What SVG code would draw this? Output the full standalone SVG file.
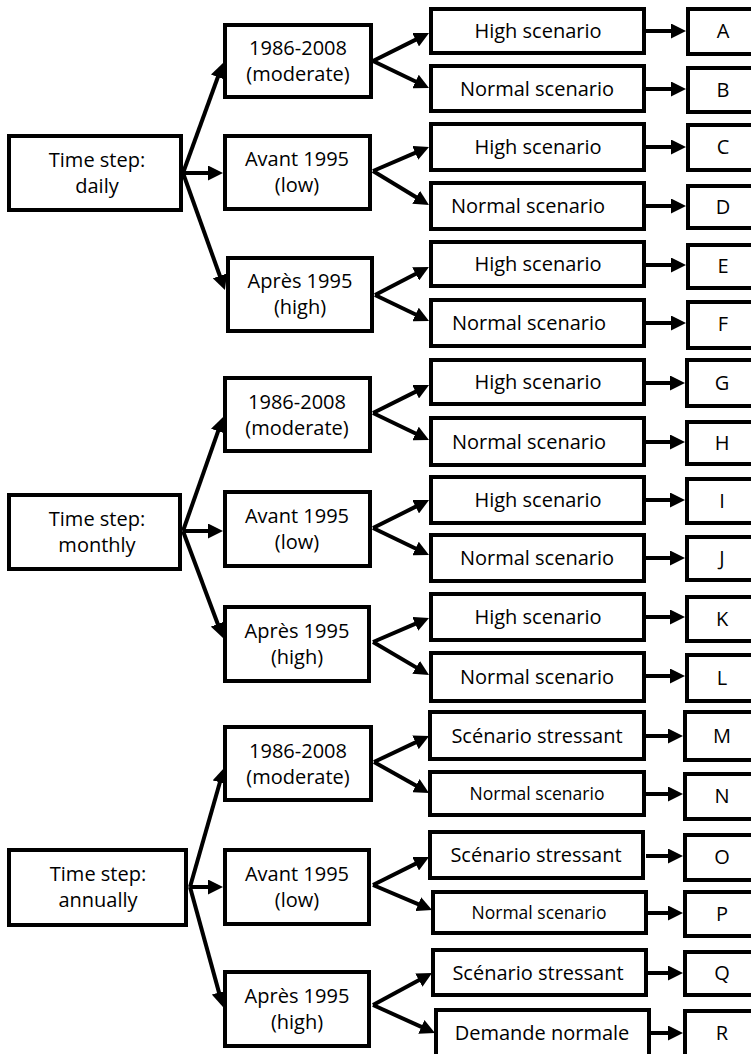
<svg xmlns="http://www.w3.org/2000/svg" width="751" height="1054" viewBox="0 0 751 1054">
<style>
.box{fill:#fff;stroke:#000;stroke-width:4}
.t{font-family:'Open Sans','Noto Sans',sans-serif;font-size:20px;text-anchor:middle;fill:#000}
.ts{font-size:17.5px}
.c line{stroke:#000;stroke-width:4;marker-end:url(#ah)}
</style>
<defs>
<marker id="ah" markerUnits="userSpaceOnUse" markerWidth="15" markerHeight="15" refX="3" refY="7.5" orient="auto">
<path d="M0,0 L15,7.5 L0,15 z" fill="#000"/>
</marker>
</defs>
<rect width="751" height="1054" fill="#fff"/>
<g class="c" id="connectors">
<line x1="183" y1="173" x2="218.9" y2="74.3"/>
<line x1="183" y1="173" x2="211" y2="173"/>
<line x1="183" y1="173" x2="220.9" y2="278.7"/>
<line x1="183" y1="531" x2="219.1" y2="428.3"/>
<line x1="183" y1="531" x2="211" y2="531"/>
<line x1="183" y1="531" x2="218.8" y2="626.8"/>
<line x1="190" y1="887" x2="220.7" y2="779.5"/>
<line x1="190" y1="887" x2="211" y2="887"/>
<line x1="190" y1="887" x2="219.8" y2="995.4"/>
<line x1="373" y1="61" x2="418.3" y2="38.4"/>
<line x1="373" y1="61" x2="418.2" y2="82.8"/>
<line x1="373" y1="171" x2="418" y2="151.7"/>
<line x1="373" y1="171" x2="418.7" y2="198.8"/>
<line x1="375" y1="295" x2="418.3" y2="272.5"/>
<line x1="375" y1="295" x2="418.2" y2="315.8"/>
<line x1="373" y1="413" x2="418.3" y2="390.4"/>
<line x1="373" y1="413" x2="418.2" y2="434.8"/>
<line x1="373" y1="528" x2="418.3" y2="505.4"/>
<line x1="373" y1="528" x2="418.2" y2="549.8"/>
<line x1="373" y1="642" x2="418" y2="622.7"/>
<line x1="373" y1="642" x2="418.7" y2="668.9"/>
<line x1="374" y1="762" x2="418.2" y2="741.1"/>
<line x1="374" y1="762" x2="418.5" y2="787.1"/>
<line x1="373" y1="885" x2="418.3" y2="862.4"/>
<line x1="373" y1="885" x2="421" y2="905.3"/>
<line x1="373" y1="1005" x2="421.5" y2="978.7"/>
<line x1="373" y1="1005" x2="424.1" y2="1028.1"/>
<line x1="646" y1="31" x2="674" y2="31"/>
<line x1="646" y1="89" x2="674" y2="89"/>
<line x1="646" y1="147" x2="674" y2="147"/>
<line x1="646" y1="206" x2="674" y2="206"/>
<line x1="646" y1="265" x2="674" y2="265"/>
<line x1="646" y1="323" x2="674" y2="323"/>
<line x1="646" y1="383" x2="673" y2="383"/>
<line x1="646" y1="442" x2="673" y2="442"/>
<line x1="646" y1="500" x2="673" y2="500"/>
<line x1="646" y1="558" x2="673" y2="558"/>
<line x1="646" y1="617" x2="673" y2="617"/>
<line x1="646" y1="676" x2="673" y2="676"/>
<line x1="646" y1="736" x2="671" y2="736"/>
<line x1="646" y1="794" x2="671" y2="794"/>
<line x1="646" y1="856" x2="671" y2="856"/>
<line x1="648" y1="913" x2="671" y2="913"/>
<line x1="648" y1="973" x2="671" y2="973"/>
<line x1="651" y1="1033" x2="671" y2="1033"/>
</g>
<g id="daily"><rect class="box" x="9" y="136" width="172" height="74"/><text class="t" x="97" y="167">Time step:</text><text class="t" x="97" y="193">daily</text></g>
<g id="d-mod"><rect class="box" x="225" y="25" width="146" height="72"/><text class="t" x="298" y="55">1986-2008</text><text class="t" x="298" y="81">(moderate)</text></g>
<g id="d-low"><rect class="box" x="225" y="136" width="145" height="73"/><text class="t" x="297" y="166">Avant 1995</text><text class="t" x="297" y="192">(low)</text></g>
<g id="d-high"><rect class="box" x="228" y="258" width="144" height="73"/><text class="t" x="300" y="288">Après 1995</text><text class="t" x="300" y="314">(high)</text></g>
<g id="sA"><rect class="box" x="431" y="9" width="213" height="44"/><text class="t" x="538" y="38">High scenario</text></g>
<g id="sB"><rect class="box" x="431" y="66" width="213" height="45"/><text class="t" x="537" y="96">Normal scenario</text></g>
<g id="sC"><rect class="box" x="431" y="124" width="213" height="46"/><text class="t" x="538" y="154">High scenario</text></g>
<g id="sD"><rect class="box" x="431" y="183" width="213" height="46"/><text class="t" x="528" y="213">Normal scenario</text></g>
<g id="sE"><rect class="box" x="431" y="242" width="213" height="44"/><text class="t" x="538" y="271">High scenario</text></g>
<g id="sF"><rect class="box" x="431" y="300" width="213" height="46"/><text class="t" x="529" y="330">Normal scenario</text></g>
<g id="A"><rect class="box" x="688" y="9" width="70" height="45"/><text class="t" x="723" y="38">A</text></g>
<g id="B"><rect class="box" x="688" y="68" width="70" height="44"/><text class="t" x="723" y="97">B</text></g>
<g id="C"><rect class="box" x="688" y="125" width="70" height="45"/><text class="t" x="723" y="154">C</text></g>
<g id="D"><rect class="box" x="688" y="186" width="70" height="42"/><text class="t" x="723" y="214">D</text></g>
<g id="E"><rect class="box" x="688" y="245" width="70" height="43"/><text class="t" x="723" y="273">E</text></g>
<g id="F"><rect class="box" x="688" y="302" width="70" height="46"/><text class="t" x="723" y="331">F</text></g>
<g id="monthly"><rect class="box" x="9" y="495" width="171" height="74"/><text class="t" x="97" y="526">Time step:</text><text class="t" x="97" y="552">monthly</text></g>
<g id="m-mod"><rect class="box" x="225" y="378" width="145" height="73"/><text class="t" x="297" y="409">1986-2008</text><text class="t" x="297" y="435">(moderate)</text></g>
<g id="m-low"><rect class="box" x="225" y="492" width="145" height="74"/><text class="t" x="297" y="523">Avant 1995</text><text class="t" x="297" y="549">(low)</text></g>
<g id="m-high"><rect class="box" x="225" y="607" width="144" height="74"/><text class="t" x="297" y="638">Après 1995</text><text class="t" x="297" y="664">(high)</text></g>
<g id="sG"><rect class="box" x="431" y="360" width="213" height="44"/><text class="t" x="538" y="389">High scenario</text></g>
<g id="sH"><rect class="box" x="431" y="418" width="213" height="47"/><text class="t" x="529" y="449">Normal scenario</text></g>
<g id="sI"><rect class="box" x="431" y="477" width="213" height="46"/><text class="t" x="538" y="507">High scenario</text></g>
<g id="sJ"><rect class="box" x="431" y="535" width="213" height="46"/><text class="t" x="537" y="565">Normal scenario</text></g>
<g id="sK"><rect class="box" x="431" y="594" width="213" height="46"/><text class="t" x="538" y="624">High scenario</text></g>
<g id="sL"><rect class="box" x="431" y="653" width="213" height="48"/><text class="t" x="537" y="684">Normal scenario</text></g>
<g id="G"><rect class="box" x="687" y="360" width="70" height="46"/><text class="t" x="722" y="390">G</text></g>
<g id="H"><rect class="box" x="687" y="422" width="70" height="42"/><text class="t" x="722" y="450">H</text></g>
<g id="I"><rect class="box" x="687" y="479" width="70" height="44"/><text class="t" x="722" y="508">I</text></g>
<g id="J"><rect class="box" x="687" y="537" width="70" height="43"/><text class="t" x="722" y="565">J</text></g>
<g id="K"><rect class="box" x="687" y="597" width="70" height="44"/><text class="t" x="722" y="626">K</text></g>
<g id="L"><rect class="box" x="687" y="655" width="70" height="46"/><text class="t" x="722" y="685">L</text></g>
<g id="annually"><rect class="box" x="9" y="850" width="177" height="75"/><text class="t" x="98" y="881">Time step:</text><text class="t" x="98" y="907">annually</text></g>
<g id="a-mod"><rect class="box" x="225" y="727" width="146" height="73"/><text class="t" x="298" y="758">1986-2008</text><text class="t" x="298" y="784">(moderate)</text></g>
<g id="a-low"><rect class="box" x="225" y="850" width="144" height="74"/><text class="t" x="297" y="881">Avant 1995</text><text class="t" x="297" y="907">(low)</text></g>
<g id="a-high"><rect class="box" x="225" y="972" width="144" height="74"/><text class="t" x="297" y="1003">Après 1995</text><text class="t" x="297" y="1029">(high)</text></g>
<g id="sM"><rect class="box" x="430" y="712" width="214" height="47"/><text class="t" x="537" y="743">Scénario stressant</text></g>
<g id="sN"><rect class="box" x="430" y="772" width="214" height="43"/><text class="t ts" x="537" y="800">Normal scenario</text></g>
<g id="sO"><rect class="box" x="430" y="832" width="213" height="46"/><text class="t" x="536" y="862">Scénario stressant</text></g>
<g id="sP"><rect class="box" x="433" y="892" width="213" height="41"/><text class="t ts" x="539" y="919">Normal scenario</text></g>
<g id="sQ"><rect class="box" x="433" y="950" width="213" height="45"/><text class="t" x="538" y="980">Scénario stressant</text></g>
<g id="sR"><rect class="box" x="436" y="1010" width="213" height="50"/><text class="t" x="542" y="1040">Demande normale</text></g>
<g id="M"><rect class="box" x="685" y="712" width="72" height="48"/><text class="t" x="722" y="743">M</text></g>
<g id="N"><rect class="box" x="685" y="774" width="72" height="45"/><text class="t" x="722" y="803">N</text></g>
<g id="O"><rect class="box" x="685" y="835" width="72" height="45"/><text class="t" x="722" y="864">O</text></g>
<g id="P"><rect class="box" x="685" y="892" width="72" height="44"/><text class="t" x="722" y="921">P</text></g>
<g id="Q"><rect class="box" x="685" y="952" width="72" height="43"/><text class="t" x="722" y="980">Q</text></g>
<g id="R"><rect class="box" x="685" y="1011" width="72" height="50"/><text class="t" x="722" y="1040">R</text></g>
</svg>
